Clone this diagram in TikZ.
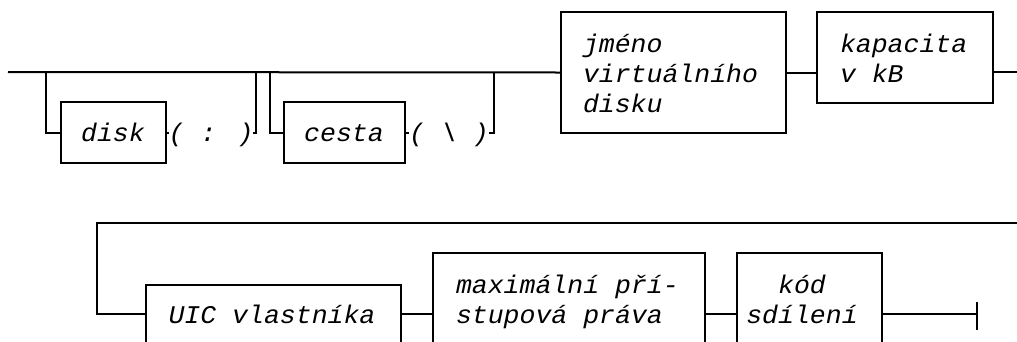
\documentclass[tikz,border=0pt]{standalone}
\usepackage{fontspec}
\newfontfamily\diafont{Liberation Mono}[FakeStretch=1.04]
\begin{document}
\begin{tikzpicture}[x=1pt,y=-1pt,
  line width=2pt, line join=miter,
  box/.style={draw, rectangle, inner sep=0pt, outer sep=0pt, anchor=north west},
  lbl/.style={inner sep=0pt, outer sep=0pt, font=\diafont\itshape\fontsize{25.5}{30}\selectfont}]
\useasboundingbox (0,0) rectangle (1017,341);

% ---- first row: optional drive and path, then name and capacity ----
\node[box, minimum width=105pt, minimum height=61pt] (bdisk) at (61,102) {};
\node[box, minimum width=121pt, minimum height=61pt] (bcesta) at (284,102) {};
\node[box, minimum width=225pt, minimum height=121pt] (bjmeno) at (561,12) {};
\node[box, minimum width=176pt, minimum height=91pt] (bkap) at (817,12) {};

\node[lbl, anchor=base] (tdisk) at (113,141) {disk};
\node[lbl, anchor=base] (tcolon) at (211,141) {( : )};
\node[lbl, anchor=base] (tcesta) at (344,141) {cesta};
\node[lbl, anchor=base] (tslash) at (449,141) {( \textbackslash{} )};
\node[lbl, anchor=base west] (tjm1) at (583,52) {jméno};
\node[lbl, anchor=base west] (tjm2) at (583,82) {virtuálního};
\node[lbl, anchor=base west] (tjm3) at (583,112) {disku};
\node[lbl, anchor=base west] (tkap1) at (840,52) {kapacita};
\node[lbl, anchor=base west] (tkap2) at (840,82) {v kB};

\coordinate (in1) at (8,72);
\coordinate (a1) at (46,72);
\coordinate (a2) at (256,72);
\coordinate (a3) at (270,72);
\coordinate (a4) at (494,72);
\coordinate (out1) at (1017,72);

\draw (in1) -- (bjmeno.west);
\draw (a1) |- (bdisk.west);
\draw (bdisk.east) -- (bdisk.east -| tcolon.west);
\draw (tcolon.east |- bdisk.east) -| (a2);
\draw (a3) |- (bcesta.west);
\draw (bcesta.east) -- (bcesta.east -| tslash.west);
\draw (tslash.east |- bcesta.east) -| (a4);
\draw (bjmeno.east) -- (bjmeno.east -| bkap.west);
\draw (bkap.east |- out1) -- (out1);

% ---- second row: owner, access rights, sharing code ----
\node[box, minimum width=255pt, minimum height=58pt] (buic) at (146,285) {};
\node[box, minimum width=272pt, minimum height=122pt] (bmax) at (433,253) {};
\node[box, minimum width=145pt, minimum height=122pt] (bkod) at (737,253) {};

\node[lbl, anchor=base] (tuic) at (272,323) {UIC vlastníka};
\node[lbl, anchor=base west] (tmax1) at (456,293) {maximální pří-};
\node[lbl, anchor=base west] (tmax2) at (456,323) {stupová práva};
\node[lbl, anchor=base] (tkod1) at (802,293) {kód};
\node[lbl, anchor=base] (tkod2) at (802,323) {sdílení};

\coordinate (in2) at (1017,223);
\coordinate (b1) at (97,223);
\coordinate (fin) at (977,314);

\draw (in2) -- (b1) |- (buic.west);
\draw (buic.east) -- (bmax.west);
\draw (bmax.east) -- (bkod.west);
\draw (bkod.east) -- (fin);
\draw ([yshift=12pt]fin) -- ([yshift=-16pt]fin);
\end{tikzpicture}
\end{document}
